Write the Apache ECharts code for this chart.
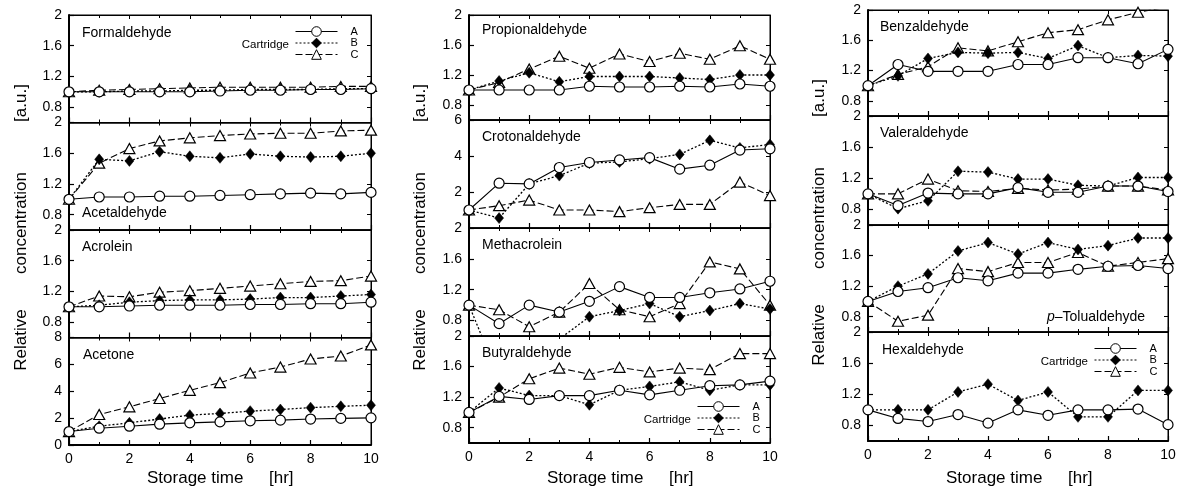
<!DOCTYPE html>
<html>
<head>
<meta charset="utf-8">
<script src="https://cdn.jsdelivr.net/npm/echarts@6/dist/echarts.min.js"></script>
<style>
html,body{margin:0;padding:0;background:#fff;}
#chart{width:1183px;height:493px;}
</style>
</head>
<body>
<div id="chart"></div>
<script>
// ---------------- DATA ----------------
const hours = [0, 1, 2, 3, 4, 5, 6, 7, 8, 9, 10];
const xTickLabels = ['0', '2', '4', '6', '8', '10'];
const seriesNames = ['A', 'B', 'C'];
const panelNames = [
  'Formaldehyde', 'Acetaldehyde', 'Acrolein', 'Acetone',
  'Propionaldehyde', 'Crotonaldehyde', 'Methacrolein', 'Butyraldehyde',
  'Benzaldehyde', 'Valeraldehyde', 'p\u2013Tolualdehyde', 'Hexaldehyde'
];
const relTicks = [0.8, 1.2, 1.6, 2];
const acetoneTicks = [0, 2, 4, 6, 8];
const crotTicks = [2, 4, 6];

const formA = [1.00, 1.00, 1.00, 1.00, 1.00, 1.01, 1.02, 1.02, 1.03, 1.03, 1.04];
const formB = [1.00, 1.00, 1.01, 1.01, 1.02, 1.02, 1.03, 1.03, 1.03, 1.04, 1.04];
const formC = [1.00, 1.02, 1.03, 1.04, 1.05, 1.06, 1.06, 1.06, 1.06, 1.07, 1.07];

const acetA = [1.00, 1.03, 1.03, 1.04, 1.04, 1.05, 1.06, 1.07, 1.08, 1.07, 1.09];
const acetB = [1.00, 1.52, 1.50, 1.62, 1.56, 1.54, 1.59, 1.56, 1.55, 1.56, 1.60];
const acetC = [1.00, 1.47, 1.66, 1.76, 1.80, 1.83, 1.85, 1.86, 1.86, 1.89, 1.90];

const acroA = [1.00, 1.00, 1.01, 1.02, 1.02, 1.02, 1.03, 1.03, 1.04, 1.04, 1.06];
const acroB = [1.00, 1.02, 1.06, 1.08, 1.09, 1.09, 1.10, 1.12, 1.12, 1.14, 1.16];
const acroC = [1.00, 1.14, 1.13, 1.19, 1.21, 1.24, 1.27, 1.30, 1.33, 1.34, 1.40];

const acetoneA = [1.00, 1.25, 1.40, 1.55, 1.65, 1.72, 1.80, 1.85, 1.93, 1.98, 2.02];
const acetoneB = [1.00, 1.40, 1.65, 1.93, 2.22, 2.35, 2.52, 2.64, 2.78, 2.88, 2.96];
const acetoneC = [1.00, 2.27, 2.84, 3.46, 4.07, 4.64, 5.36, 5.80, 6.40, 6.62, 7.45];

const propA = [1.00, 1.00, 1.00, 1.00, 1.05, 1.04, 1.04, 1.05, 1.04, 1.08, 1.05];
const propB = [1.00, 1.12, 1.23, 1.11, 1.18, 1.18, 1.18, 1.16, 1.14, 1.20, 1.20];
const propC = [1.00, 1.10, 1.28, 1.45, 1.29, 1.48, 1.38, 1.49, 1.41, 1.59, 1.41];

const crotA = [1.00, 2.49, 2.45, 3.36, 3.64, 3.78, 3.91, 3.27, 3.49, 4.33, 4.40];
const crotB = [1.00, 0.55, 2.45, 2.91, 3.60, 3.67, 3.85, 4.09, 4.87, 4.45, 4.64];
const crotC = [1.00, 1.24, 1.55, 1.00, 1.00, 0.91, 1.13, 1.31, 1.31, 2.55, 1.80];

const methA = [1.00, 0.76, 1.00, 0.91, 1.05, 1.24, 1.10, 1.10, 1.16, 1.21, 1.31];
const methB = [1.00, 0.05, 0.20, 0.56, 0.85, 0.93, 1.02, 0.85, 0.93, 1.02, 0.95];
const methC = [1.00, 0.94, 0.72, 0.91, 1.28, 0.94, 0.85, 1.02, 1.56, 1.47, 1.00];

const butyA = [1.00, 1.21, 1.17, 1.22, 1.22, 1.29, 1.23, 1.29, 1.35, 1.36, 1.41];
const butyB = [1.00, 1.32, 1.22, 1.22, 1.10, 1.29, 1.34, 1.40, 1.29, 1.36, 1.36];
const butyC = [1.00, 1.20, 1.44, 1.58, 1.50, 1.59, 1.53, 1.58, 1.56, 1.77, 1.77];

const benzA = [1.00, 1.28, 1.19, 1.19, 1.19, 1.28, 1.28, 1.37, 1.37, 1.29, 1.48];
const benzB = [1.00, 1.13, 1.36, 1.44, 1.43, 1.44, 1.36, 1.53, 1.37, 1.40, 1.39];
const benzC = [1.00, 1.15, 1.25, 1.50, 1.46, 1.58, 1.70, 1.74, 1.87, 1.97, 2.04];

const valA = [1.00, 0.85, 1.01, 1.00, 1.00, 1.08, 1.02, 1.02, 1.10, 1.10, 1.03];
const valB = [1.00, 0.81, 0.91, 1.29, 1.28, 1.19, 1.19, 1.11, 1.10, 1.21, 1.21];
const valC = [1.00, 1.00, 1.19, 1.04, 1.03, 1.07, 1.05, 1.06, 1.10, 1.10, 1.05];

const tolA = [1.00, 1.13, 1.18, 1.31, 1.27, 1.37, 1.37, 1.42, 1.46, 1.47, 1.43];
const tolB = [1.00, 1.20, 1.36, 1.66, 1.77, 1.62, 1.77, 1.68, 1.73, 1.83, 1.83];
const tolC = [1.00, 0.74, 0.82, 1.43, 1.39, 1.51, 1.51, 1.64, 1.46, 1.51, 1.56];

const hexA = [1.00, 0.89, 0.85, 0.94, 0.83, 1.00, 0.93, 1.00, 1.00, 1.01, 0.81];
const hexB = [1.00, 1.00, 1.00, 1.23, 1.33, 1.12, 1.23, 0.91, 0.91, 1.25, 1.25];

// ---------------- PANELS (data refs) ----------------
const panelData = [
  [formA, formB, formC], [acetA, acetB, acetC], [acroA, acroB, acroC], [acetoneA, acetoneB, acetoneC],
  [propA, propB, propC], [crotA, crotB, crotC], [methA, methB, methC], [butyA, butyB, butyC],
  [benzA, benzB, benzC], [valA, valB, valC], [tolA, tolB, tolC], [hexA, hexB, null]
];
const panelScale = [
  {min: 0.6, max: 2, ticks: relTicks}, {min: 0.6, max: 2, ticks: relTicks},
  {min: 0.6, max: 2, ticks: relTicks}, {min: 0, max: 8, ticks: acetoneTicks},
  {min: 0.6, max: 2, ticks: relTicks}, {min: 0, max: 6, ticks: crotTicks},
  {min: 0.6, max: 2, ticks: relTicks}, {min: 0.6, max: 2, ticks: relTicks},
  {min: 0.6, max: 2, ticks: relTicks}, {min: 0.6, max: 2, ticks: relTicks},
  {min: 0.6, max: 2, ticks: relTicks}, {min: 0.6, max: 2, ticks: relTicks}
];

// ---------------- LAYOUT ----------------
const FONT = 'Liberation Sans, Arial, sans-serif';
const cols = [
  {left: 69, width: 302, bounds: [15, 122.5, 230, 337.5, 445]},
  {left: 469, width: 301, bounds: [15, 120, 228, 336, 443]},
  {left: 868, width: 300, bounds: [10, 116, 225, 332, 441]}
];
const nameLayout = [
  [82, 33], [82, 213], [82, 247], [83, 355],
  [482, 30], [482, 137], [482, 245], [482, 353],
  [880, 27], [880, 133], [1047, 317], [882, 350]
];
const seriesStyle = {
  A: {symbol: 'circle', symbolSize: 10, item: {color: '#fff', borderColor: '#000', borderWidth: 1.2}, line: {color: '#000', width: 1.1, type: 'solid'}},
  B: {symbol: 'diamond', symbolSize: [9, 11], item: {color: '#000', borderColor: '#000', borderWidth: 0.5}, line: {color: '#000', width: 1.3, type: [2, 2]}},
  C: {symbol: 'triangle', symbolSize: [11, 10], item: {color: '#fff', borderColor: '#000', borderWidth: 1.2}, line: {color: '#000', width: 1.1, type: [7, 3]}}
};

const grids = [], xAxes = [], yAxes = [], series = [], graphics = [];

panelData.forEach((sets, p) => {
  const c = Math.floor(p / 4), r = p % 4;
  const col = cols[c];
  const top = col.bounds[r], bottom = col.bounds[r + 1];
  const isBottom = r === 3;
  const sc = panelScale[p];
  grids.push({left: col.left, top: top, width: col.width, height: bottom - top,
    show: true, borderColor: '#000', borderWidth: 1, containLabel: false});
  // bottom x axis
  xAxes.push({
    type: 'value', gridIndex: p, position: 'bottom', min: 0, max: 10, interval: 2,
    axisLine: {show: true, onZero: false, lineStyle: {color: '#000', width: isBottom ? 2 : 1.5}},
    axisTick: {show: true, inside: true, length: 5, lineStyle: {color: '#000', width: 1.2}},
    minorTick: {show: true, splitNumber: 2, length: 3, lineStyle: {color: '#000', width: 1}},
    axisLabel: {show: isBottom, color: '#000', fontFamily: FONT, fontSize: 14, margin: 7,
      formatter: v => xTickLabels[Math.round(v / 2)]},
    splitLine: {show: false}, minorSplitLine: {show: false}
  });
  // top x axis (ticks only)
  xAxes.push({
    type: 'value', gridIndex: p, position: 'top', min: 0, max: 10, interval: 2,
    axisLine: {show: true, onZero: false, lineStyle: {color: '#000', width: 1}},
    axisTick: {show: true, inside: true, length: 4, lineStyle: {color: '#000'}},
    minorTick: {show: true, splitNumber: 2, length: 3, lineStyle: {color: '#000'}},
    axisLabel: {show: false}, splitLine: {show: false}
  });
  // left y axis
  yAxes.push({
    type: 'value', gridIndex: p, position: 'left', min: sc.min, max: sc.max,
    axisLine: {show: true, onZero: false, lineStyle: {color: '#000', width: 2}},
    axisTick: {show: true, inside: true, length: 5, customValues: sc.ticks, lineStyle: {color: '#000', width: 1.2}},
    axisLabel: {show: true, customValues: sc.ticks, color: '#000', fontFamily: FONT, fontSize: 14, margin: 7,
      formatter: v => String(v)},
    splitLine: {show: false}
  });
  // right y axis (ticks only)
  yAxes.push({
    type: 'value', gridIndex: p, position: 'right', min: sc.min, max: sc.max,
    axisLine: {show: true, onZero: false, lineStyle: {color: '#000', width: 1}},
    axisTick: {show: true, inside: true, length: 4, customValues: sc.ticks, lineStyle: {color: '#000'}},
    axisLabel: {show: false}, splitLine: {show: false}
  });
  // series, C drawn first, A on top
  [2, 1, 0].forEach(k => {
    const vals = sets[k];
    if (!vals) return;
    const nm = seriesNames[k];
    const st = seriesStyle[nm];
    series.push({
      name: nm, type: 'line', xAxisIndex: 2 * p, yAxisIndex: 2 * p,
      data: hours.map((h, i) => [h, vals[i]]),
      symbol: st.symbol, symbolSize: st.symbolSize, showAllSymbol: true,
      itemStyle: st.item, lineStyle: st.line, clip: true, z: 2 + (2 - k),
      emphasis: {disabled: true}, silent: true
    });
  });
  // panel name
  const nl = nameLayout[p];
  if (p === 10) {
    graphics.push({type: 'text', x: nl[0], y: nl[1], z: 100, style: {
      text: '{i|p}{n|\u2013Tolualdehyde}', verticalAlign: 'middle', align: 'left',
      rich: {i: {fontStyle: 'italic', fontFamily: FONT, fontSize: 14, fill: '#000'},
             n: {fontFamily: FONT, fontSize: 14, fill: '#000'}}
    }});
  } else {
    graphics.push({type: 'text', x: nl[0], y: nl[1], z: 100, style: {
      text: panelNames[p], fontFamily: FONT, fontSize: 14, fill: '#000',
      verticalAlign: 'middle', align: 'left'}});
  }
});

// axis titles
const yTitleX = [21, 420, 819];
const yTitleShift = [0, 0, -5];
yTitleX.forEach((x, c) => {
  [['[a.u.]', 103], ['concentration', 223], ['Relative', 340]].forEach(([t, y]) => {
    graphics.push({type: 'text', x: x, y: y + yTitleShift[c], rotation: Math.PI / 2, style: {
      text: t, fontFamily: FONT, fontSize: 17, fill: '#000', align: 'center', verticalAlign: 'middle'}});
  });
});
const xTitleLayout = [[147, 269], [547, 669], [946, 1068]];
xTitleLayout.forEach(([a, b]) => {
  graphics.push({type: 'text', x: a, y: 478, style: {text: 'Storage time', fontFamily: FONT, fontSize: 17, fill: '#000', verticalAlign: 'middle'}});
  graphics.push({type: 'text', x: b, y: 478, style: {text: '[hr]', fontFamily: FONT, fontSize: 17, fill: '#000', verticalAlign: 'middle'}});
});

// legends
const legendLayout = [[295, 32], [697, 407], [1094, 349]];
const legends = legendLayout.map(([lx, ly]) => ({
  data: seriesNames, orient: 'vertical', left: lx, top: ly - 6, padding: 0,
  itemWidth: 42, itemHeight: 12, itemGap: 0.5, selectedMode: false,
  lineStyle: {width: 1},
  itemStyle: {borderWidth: 1},
  textStyle: {fontFamily: FONT, fontSize: 11, color: '#000', padding: [0, 0, 0, 8]}
}));
legendLayout.forEach(([lx, ly]) => {
  graphics.push({type: 'text', x: lx - 6, y: ly + 12.5, style: {text: 'Cartridge', fontFamily: FONT, fontSize: 11.5, fill: '#000', align: 'right', verticalAlign: 'middle'}});
});

const chart = echarts.init(document.getElementById('chart'), null, {renderer: 'canvas'});
chart.setOption({
  animation: false,
  backgroundColor: '#fff',
  grid: grids,
  xAxis: xAxes,
  yAxis: yAxes,
  legend: legends,
  series: series,
  graphic: graphics
});
</script>
</body>
</html>
